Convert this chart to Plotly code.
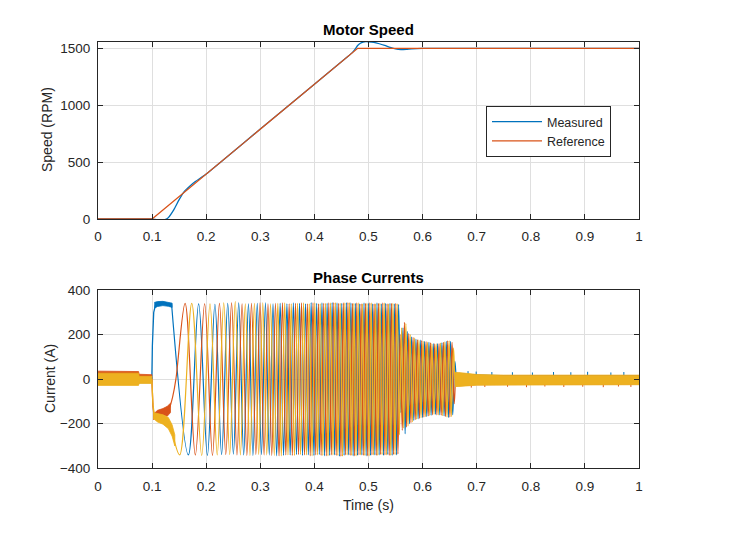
import plotly.graph_objects as go

# ---------------- Motor speed data (RPM) ----------------
ref_t = [0.0, 0.1, 0.48, 1.0]
ref_rpm = [0, 0, 1500, 1500]

meas_t = [0.0, 0.1, 0.105, 0.115, 0.125, 0.13, 0.14, 0.15, 0.16, 0.17, 0.18, 0.19,
          0.2, 0.3, 0.4, 0.46, 0.47, 0.475, 0.48, 0.485, 0.49, 0.495, 0.5, 0.51,
          0.52, 0.53, 0.54, 0.55, 0.56, 0.57, 0.58, 0.6, 0.7, 1.0]
meas_rpm = [0, 0, -4, -8, -4, 12, 80, 170, 245, 290, 330, 362,
            395, 790, 1184, 1421, 1462, 1490, 1525, 1545, 1555, 1558, 1557, 1552,
            1540, 1525, 1508, 1494, 1489, 1491, 1495, 1499, 1500, 1500]

# ---------------- Phase currents (A): start-up segments ----------------
blue_start = [(0.0995, 0), (0.1005, 150), (0.103, 300), (0.106, 330), (0.112, 340),
              (0.120, 343), (0.128, 339), (0.136, 336)]
red_start = [(0.0995, 0), (0.1015, -120), (0.104, -172), (0.108, -160), (0.115, -150),
             (0.122, -145), (0.128, -140), (0.133, -125)]
yellow_start = [(0.0995, 0), (0.1015, -110), (0.104, -165), (0.110, -172), (0.118, -178),
                (0.126, -192), (0.133, -215), (0.139, -255)]

# start-up ripple envelopes (A)
blue_su_t = [0.104, 0.110, 0.120, 0.130, 0.137]
blue_su_top = [344, 348, 349, 346, 341]
blue_su_bot = [318, 326, 330, 327, 322]
red_su_t = [0.102, 0.110, 0.120, 0.128, 0.134]
red_su_top = [-158, -140, -132, -122, -108]
red_su_bot = [-182, -166, -160, -166, -150]
yellow_su_t = [0.102, 0.110, 0.120, 0.130, 0.137, 0.142]
yellow_su_top = [-150, -155, -160, -172, -205, -250]
yellow_su_bot = [-176, -192, -202, -222, -256, -300]

# ---------------- Phase currents (A): oscillation peaks (time, value) ----------------
blue_peaks = [
    (0.136, 336), (0.167, -340), (0.186, 338), (0.2022, -342), (0.2161, 336),
    (0.2285, -338), (0.2398, 340), (0.2503, -336), (0.2601, 342), (0.2693, -340),
    (0.2781, 338), (0.2864, -342), (0.2944, 340), (0.3021, -338), (0.3095, 342),
    (0.3166, -340), (0.3235, 338), (0.3302, -344), (0.3367, 340), (0.3430, -342),
    (0.3492, 338), (0.3552, -340), (0.3611, 342), (0.3669, -338), (0.3725, 340),
    (0.3780, -342), (0.3835, 338), (0.3888, -340), (0.3940, 344), (0.3991, -342),
    (0.4042, 340), (0.4091, -338), (0.4140, 342), (0.4188, -344), (0.4235, 340),
    (0.4282, -342), (0.4328, 344), (0.4373, -340), (0.4418, 342), (0.4462, -346),
    (0.4506, 340), (0.4549, -342), (0.4591, 344), (0.4633, -340), (0.4675, 342),
    (0.4716, -344), (0.4757, 340), (0.4797, -342), (0.4837, 338), (0.4877, -340),
    (0.4917, 342), (0.4957, -344), (0.4997, 340), (0.5037, -342), (0.5077, 338),
    (0.5117, -340), (0.5157, 342), (0.5197, -340), (0.5237, 338), (0.5277, -342),
    (0.5317, 340), (0.5357, -338), (0.5397, 340), (0.5437, -342), (0.5477, 338),
    (0.5517, -340), (0.5557, 336), (0.5597, -150), (0.5637, 230), (0.5677, -245),
    (0.5717, 215), (0.5757, -200), (0.5797, 190), (0.5837, -185), (0.5877, 180),
    (0.5917, -178), (0.5957, 175), (0.5997, -172), (0.6037, 170), (0.6077, -168),
    (0.6117, 165), (0.6157, -162), (0.6197, 160), (0.6237, -158), (0.6277, 160),
    (0.6317, -160), (0.6357, 163), (0.6397, -165), (0.6437, 170), (0.6477, -172),
    (0.6517, 170), (0.6557, -160), (0.6597, 80), (0.6637, -25), (0.667, 0),
]

red_peaks = [
    (0.133, -125), (0.138, -80), (0.144, 0), (0.1610, 340), (0.1799, -340), (0.1971, 338),
    (0.2116, -342), (0.2245, 340), (0.2362, -338), (0.2469, 342), (0.2569, -340),
    (0.2663, 338), (0.2752, -342), (0.2837, 340), (0.2918, -338), (0.2995, 342),
    (0.3070, -340), (0.3142, 338), (0.3212, -342), (0.3280, 340), (0.3346, -344),
    (0.3410, 342), (0.3472, -340), (0.3533, 338), (0.3592, -342), (0.3650, 340),
    (0.3707, -338), (0.3762, 342), (0.3817, -340), (0.3870, 338), (0.3923, -344),
    (0.3974, 342), (0.4025, -340), (0.4075, 338), (0.4124, -342), (0.4172, 340),
    (0.4220, -344), (0.4266, 342), (0.4313, -340), (0.4358, 344), (0.4403, -342),
    (0.4448, 340), (0.4491, -346), (0.4535, 342), (0.4577, -340), (0.4620, 344),
    (0.4661, -342), (0.4703, 340), (0.4743, -344), (0.4784, 342), (0.4824, -340),
    (0.4864, 338), (0.4904, -342), (0.4944, 340), (0.4984, -344), (0.5024, 342),
    (0.5064, -340), (0.5104, 338), (0.5144, -342), (0.5184, 340), (0.5224, -338),
    (0.5264, 342), (0.5304, -340), (0.5344, 338), (0.5384, -342), (0.5424, 340),
    (0.5464, -338), (0.5504, 340), (0.5544, -336), (0.5584, 200), (0.5624, -230),
    (0.5664, 255), (0.5704, -215), (0.5744, 205), (0.5784, -195), (0.5824, 188),
    (0.5864, -182), (0.5904, 178), (0.5944, -176), (0.5984, 173), (0.6024, -170),
    (0.6064, 168), (0.6104, -165), (0.6144, 163), (0.6184, -160), (0.6224, 158),
    (0.6264, -160), (0.6304, 160), (0.6344, -162), (0.6384, 165), (0.6424, -168),
    (0.6464, 172), (0.6504, -170), (0.6544, 165), (0.6584, -110), (0.6624, 25),
    (0.666, 0),
]

yellow_peaks = [
    (0.139, -255), (0.151, -340), (0.1733, 340), (0.1917, -342), (0.2070, 338),
    (0.2204, -340), (0.2324, 342), (0.2434, -338), (0.2537, 348), (0.2632, -340),
    (0.2723, 338), (0.2809, -342), (0.2891, 340), (0.2970, -338), (0.3046, 342),
    (0.3119, -340), (0.3189, 338), (0.3258, -342), (0.3324, 340), (0.3388, -344),
    (0.3451, 342), (0.3512, -340), (0.3572, 338), (0.3631, -342), (0.3688, 340),
    (0.3744, -338), (0.3799, 342), (0.3852, -340), (0.3905, 338), (0.3957, -344),
    (0.4008, 342), (0.4058, -340), (0.4107, 338), (0.4156, -342), (0.4204, 340),
    (0.4251, -344), (0.4297, 342), (0.4343, -340), (0.4388, 344), (0.4433, -342),
    (0.4477, 340), (0.4520, -346), (0.4563, 342), (0.4606, -340), (0.4647, 344),
    (0.4689, -342), (0.4730, 340), (0.4770, -344), (0.4811, 342), (0.4851, -340),
    (0.4891, 338), (0.4931, -342), (0.4971, 340), (0.5011, -344), (0.5051, 342),
    (0.5091, -340), (0.5131, 338), (0.5171, -342), (0.5211, 340), (0.5251, -338),
    (0.5291, 342), (0.5331, -340), (0.5371, 338), (0.5411, -342), (0.5451, 340),
    (0.5491, -338), (0.5531, 338), (0.5571, -250), (0.5611, 230), (0.5651, -220),
    (0.5691, 250), (0.5731, -210), (0.5771, 200), (0.5811, -192), (0.5851, 185),
    (0.5891, -180), (0.5931, 176), (0.5971, -173), (0.6011, 170), (0.6051, -168),
    (0.6091, 166), (0.6131, -163), (0.6171, 160), (0.6211, -158), (0.6251, 158),
    (0.6291, -160), (0.6331, 162), (0.6371, -164), (0.6411, 167), (0.6451, -170),
    (0.6491, 172), (0.6531, -168), (0.6571, 140), (0.6611, -35), (0.665, 0),
]

# ---------------- PWM ripple envelopes (A) ----------------
pre_t = [0.0, 0.075, 0.076, 0.0995]
blue_pre_top = [18, 18, 10, 10]
blue_pre_bot = [-22, -22, -16, -16]
red_pre_top = [36, 34, 22, 20]
red_pre_bot = [-20, -20, -15, -15]
yellow_pre_top = [27, 27, 13, 13]
yellow_pre_bot = [-28, -28, -19, -19]

post_t = [0.660, 0.666, 0.70, 0.75, 0.85, 1.0]
blue_post_top = [26, 26, 19, 16, 16, 16]
blue_post_bot = [-28, -28, -22, -20, -20, -20]
red_post_top = [24, 24, 18, 15, 15, 15]
red_post_bot = [-30, -30, -25, -22, -22, -22]
yellow_post_top = [30, 30, 21, 18, 18, 18]
yellow_post_bot = [-33, -33, -27, -25, -25, -25]

blue_spike_t = [0.684, 0.699, 0.728, 0.766, 0.803, 0.842, 0.874, 0.905, 0.948, 0.972]
blue_spike_i = [36, 34, 32, 31, 30, 32, 31, 33, 30, 32]
red_spike_t = [0.690, 0.715, 0.757, 0.792, 0.826, 0.861, 0.896, 0.934, 0.962, 0.985]
red_spike_i = [-38, -35, -34, -36, -33, -35, -34, -36, -33, -35]

# ---------------- styling ----------------
BLUE = "#0072BD"
RED = "#D95319"
YELLOW = "#EDB120"
AX = "#262626"
GRID = "#dfdfdf"
FONT = "Liberation Sans, Arial, Helvetica, sans-serif"
W, H = 751, 543
OFF = 8  # page body margin in the browser


def PX(x):
    return (x - OFF) / W


def PY(y):
    return 1 - (y - OFF) / H


fig = go.Figure()


def band(t, top, bot, color, xa, ya):
    fig.add_trace(go.Scatter(
        x=list(t) + list(t)[::-1], y=list(top) + list(bot)[::-1],
        mode="lines", fill="toself", fillcolor=color,
        line=dict(color=color, width=0.8), hoverinfo="skip",
        showlegend=False, xaxis=xa, yaxis=ya))


def spikes(t, v, color, xa, ya):
    xs, ys = [], []
    for a, b in zip(t, v):
        xs += [a, a, None]
        ys += [0, b, None]
    fig.add_trace(go.Scatter(x=xs, y=ys, mode="lines",
                             line=dict(color=color, width=1.0),
                             showlegend=False, hoverinfo="skip",
                             xaxis=xa, yaxis=ya))


# Speed subplot
fig.add_trace(go.Scatter(x=meas_t, y=meas_rpm, mode="lines", name="Measured",
                         line=dict(color=BLUE, width=1.3, shape="spline", smoothing=0.6),
                         xaxis="x", yaxis="y"))
fig.add_trace(go.Scatter(x=ref_t, y=ref_rpm, mode="lines", name="Reference",
                         line=dict(color=RED, width=1.3),
                         xaxis="x", yaxis="y"))

# Current subplot (blue, red, yellow drawn in that order)
phases = [
    (BLUE, blue_start, blue_peaks, blue_pre_top, blue_pre_bot, blue_post_top, blue_post_bot,
     blue_su_t, blue_su_top, blue_su_bot),
    (RED, red_start, red_peaks, red_pre_top, red_pre_bot, red_post_top, red_post_bot,
     red_su_t, red_su_top, red_su_bot),
    (YELLOW, yellow_start, yellow_peaks, yellow_pre_top, yellow_pre_bot, yellow_post_top,
     yellow_post_bot, yellow_su_t, yellow_su_top, yellow_su_bot),
]
for (color, start, peaks, pre_top, pre_bot, post_top, post_bot,
     su_t, su_top, su_bot) in phases:
    band(pre_t, pre_top, pre_bot, color, "x2", "y2")
    if color == BLUE:
        spikes(blue_spike_t, blue_spike_i, BLUE, "x2", "y2")
    if color == RED:
        spikes(red_spike_t, red_spike_i, RED, "x2", "y2")
    band(post_t, post_top, post_bot, color, "x2", "y2")
    band(su_t, su_top, su_bot, color, "x2", "y2")
    fig.add_trace(go.Scatter(x=[p[0] for p in start], y=[p[1] for p in start],
                             mode="lines", line=dict(color=color, width=1.3),
                             showlegend=False, xaxis="x2", yaxis="y2"))
    fig.add_trace(go.Scatter(x=[p[0] for p in peaks], y=[p[1] for p in peaks],
                             mode="lines", line=dict(color=color, width=1.2, shape="spline"),
                             showlegend=False, xaxis="x2", yaxis="y2"))

x_ticks = [0, 0.1, 0.2, 0.3, 0.4, 0.5, 0.6, 0.7, 0.8, 0.9, 1]
x_labels = ["0", "0.1", "0.2", "0.3", "0.4", "0.5", "0.6", "0.7", "0.8", "0.9", "1"]
speed_ticks = [0, 500, 1000, 1500]
current_ticks = [-400, -200, 0, 200, 400]

xd = [PX(98), PX(639)]
axis_common = dict(showline=True, linecolor=AX, linewidth=1, mirror="ticks",
                   ticks="inside", ticklen=5, tickcolor=AX, tickwidth=1,
                   showgrid=True, gridcolor=GRID, gridwidth=1, zeroline=False,
                   automargin=False,
                   tickfont=dict(family=FONT, size=13.5, color=AX))

fig.update_layout(
    template="none",
    width=W, height=H, margin=dict(l=0, r=0, t=0, b=0, pad=0, autoexpand=False),
    paper_bgcolor="white", plot_bgcolor="white",
    font=dict(family=FONT, color=AX),
    xaxis=dict(domain=xd, range=[0, 1], tickvals=x_ticks, ticktext=x_labels,
               anchor="y", ticklabelstandoff=5, **axis_common),
    yaxis=dict(domain=[PY(219), PY(41.7)], range=[0, 1558],
               tickvals=speed_ticks, anchor="x", ticklabelstandoff=4, **axis_common),
    xaxis2=dict(domain=xd, range=[0, 1], tickvals=x_ticks, ticktext=x_labels,
                anchor="y2", ticklabelstandoff=5, **axis_common),
    yaxis2=dict(domain=[PY(468.3), PY(290)], range=[-400, 400],
                tickvals=current_ticks, anchor="x2", ticklabelstandoff=4, **axis_common),
    legend=dict(x=PX(486), y=PY(106), xanchor="left", yanchor="top",
                bgcolor="white", bordercolor=AX, borderwidth=1,
                font=dict(family=FONT, size=12.5, color=AX),
                itemwidth=50, tracegroupgap=0),
    showlegend=True,
)


def px_note(text, x, y, size, bold=False, angle=0):
    fig.add_annotation(text=f"<b>{text}</b>" if bold else text,
                       x=PX(x), y=PY(y), xref="paper", yref="paper",
                       xanchor="center", yanchor="middle", showarrow=False,
                       textangle=angle, font=dict(family=FONT, size=size, color="#000000" if bold else AX))


px_note("Motor Speed", 368.5, 29, 15, bold=True)
px_note("Phase Currents", 368.5, 277, 15, bold=True)
px_note("Speed (RPM)", 47, 130, 14, angle=-90)
px_note("Current (A)", 50, 379, 14, angle=-90)
px_note("Time (s)", 368.5, 505, 14)

fig.write_html("out.html")
